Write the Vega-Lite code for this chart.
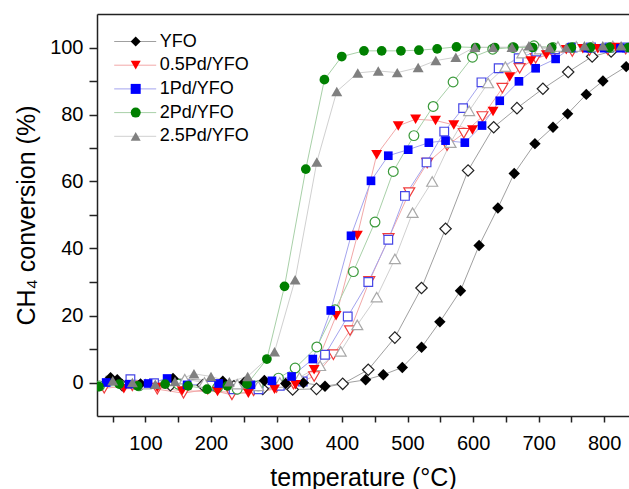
{
"$schema":"https://vega.github.io/schema/vega-lite/v6.json",
"width":532,"height":402,
"autosize":{"type":"none"},
"padding":{"left":97,"top":14,"right":0,"bottom":73},
"background":"white",
"config":{
 "view":{"stroke":null},
 "font":"Liberation Sans",
 "axis":{"labelFont":"Liberation Sans","titleFont":"Liberation Sans","labelColor":"black","titleColor":"black","domainColor":"#222","tickColor":"#222","domainWidth":1.5,"tickWidth":1.5,"grid":false,"titleFontWeight":"normal"},
 "legend":{"labelFont":"Liberation Sans","labelColor":"black"}
},
"datasets":{"d":[
{"s":"YFO","r":"a","k":"YFO a","t":46.7,"c":1.4},{"s":"YFO","r":"a","k":"YFO a","t":56.9,"c":0.8},{"s":"YFO","r":"a","k":"YFO a","t":92.4,"c":-0.4},{"s":"YFO","r":"a","k":"YFO a","t":142,"c":1.2},{"s":"YFO","r":"a","k":"YFO a","t":218,"c":0.4},{"s":"YFO","r":"a","k":"YFO a","t":251,"c":0.1},{"s":"YFO","r":"a","k":"YFO a","t":281.5,"c":0.6},{"s":"YFO","r":"a","k":"YFO a","t":314,"c":-0.3},{"s":"YFO","r":"a","k":"YFO a","t":341,"c":-0.1},{"s":"YFO","r":"a","k":"YFO a","t":374,"c":-1.1},{"s":"YFO","r":"a","k":"YFO a","t":436,"c":0.8},{"s":"YFO","r":"a","k":"YFO a","t":463,"c":2.3},{"s":"YFO","r":"a","k":"YFO a","t":492,"c":4.5},{"s":"YFO","r":"a","k":"YFO a","t":521.4,"c":10.5},{"s":"YFO","r":"a","k":"YFO a","t":549.3,"c":18.1},{"s":"YFO","r":"a","k":"YFO a","t":580.8,"c":27.4},{"s":"YFO","r":"a","k":"YFO a","t":609.2,"c":40.9},{"s":"YFO","r":"a","k":"YFO a","t":637.9,"c":52.1},{"s":"YFO","r":"a","k":"YFO a","t":662.8,"c":62.4},{"s":"YFO","r":"a","k":"YFO a","t":694.4,"c":71.3},{"s":"YFO","r":"a","k":"YFO a","t":722,"c":76.2},{"s":"YFO","r":"a","k":"YFO a","t":744.3,"c":80.2},{"s":"YFO","r":"a","k":"YFO a","t":772.8,"c":86},{"s":"YFO","r":"a","k":"YFO a","t":798.2,"c":90},{"s":"YFO","r":"a","k":"YFO a","t":833.7,"c":94.3},
{"s":"YFO","r":"b","k":"YFO b","t":64.5,"c":-0.8},{"s":"YFO","r":"b","k":"YFO b","t":138,"c":-0.8},{"s":"YFO","r":"b","k":"YFO b","t":187.5,"c":-0.8},{"s":"YFO","r":"b","k":"YFO b","t":235,"c":-1.1},{"s":"YFO","r":"b","k":"YFO b","t":279,"c":-1.9},{"s":"YFO","r":"b","k":"YFO b","t":324.6,"c":-2.1},{"s":"YFO","r":"b","k":"YFO b","t":361,"c":-1.9},{"s":"YFO","r":"b","k":"YFO b","t":401,"c":-0.4},{"s":"YFO","r":"b","k":"YFO b","t":440,"c":3.8},{"s":"YFO","r":"b","k":"YFO b","t":480.6,"c":13.4},{"s":"YFO","r":"b","k":"YFO b","t":521.3,"c":28.2},{"s":"YFO","r":"b","k":"YFO b","t":558,"c":45.9},{"s":"YFO","r":"b","k":"YFO b","t":592.4,"c":63.3},{"s":"YFO","r":"b","k":"YFO b","t":631.5,"c":76.2},{"s":"YFO","r":"b","k":"YFO b","t":667,"c":81.9},{"s":"YFO","r":"b","k":"YFO b","t":706.6,"c":87.7},{"s":"YFO","r":"b","k":"YFO b","t":745.2,"c":92.7},{"s":"YFO","r":"b","k":"YFO b","t":781.8,"c":97.3},{"s":"YFO","r":"b","k":"YFO b","t":810.7,"c":98.8},
{"s":"0.5Pd/YFO","r":"a","k":"0.5Pd/YFO a","t":67,"c":-1.9},{"s":"0.5Pd/YFO","r":"a","k":"0.5Pd/YFO a","t":118,"c":-1.5},{"s":"0.5Pd/YFO","r":"a","k":"0.5Pd/YFO a","t":156,"c":-2.5},{"s":"0.5Pd/YFO","r":"a","k":"0.5Pd/YFO a","t":210,"c":-2.7},{"s":"0.5Pd/YFO","r":"a","k":"0.5Pd/YFO a","t":257,"c":-3.2},{"s":"0.5Pd/YFO","r":"a","k":"0.5Pd/YFO a","t":297,"c":-2},{"s":"0.5Pd/YFO","r":"a","k":"0.5Pd/YFO a","t":329,"c":-0.7},{"s":"0.5Pd/YFO","r":"a","k":"0.5Pd/YFO a","t":357.4,"c":3.8},{"s":"0.5Pd/YFO","r":"a","k":"0.5Pd/YFO a","t":390.9,"c":19.9},{"s":"0.5Pd/YFO","r":"a","k":"0.5Pd/YFO a","t":423.4,"c":43.9},{"s":"0.5Pd/YFO","r":"a","k":"0.5Pd/YFO a","t":452.9,"c":68},{"s":"0.5Pd/YFO","r":"a","k":"0.5Pd/YFO a","t":485.8,"c":76.6},{"s":"0.5Pd/YFO","r":"a","k":"0.5Pd/YFO a","t":512.3,"c":78.6},{"s":"0.5Pd/YFO","r":"a","k":"0.5Pd/YFO a","t":542.7,"c":78.2},{"s":"0.5Pd/YFO","r":"a","k":"0.5Pd/YFO a","t":570.6,"c":76.9},{"s":"0.5Pd/YFO","r":"a","k":"0.5Pd/YFO a","t":599.1,"c":75.4},{"s":"0.5Pd/YFO","r":"a","k":"0.5Pd/YFO a","t":630.5,"c":80.9},{"s":"0.5Pd/YFO","r":"a","k":"0.5Pd/YFO a","t":655.9,"c":91.2},{"s":"0.5Pd/YFO","r":"a","k":"0.5Pd/YFO a","t":688.3,"c":96},{"s":"0.5Pd/YFO","r":"a","k":"0.5Pd/YFO a","t":711.8,"c":97.8},{"s":"0.5Pd/YFO","r":"a","k":"0.5Pd/YFO a","t":742.3,"c":99.3},{"s":"0.5Pd/YFO","r":"a","k":"0.5Pd/YFO a","t":767.6,"c":99.6},{"s":"0.5Pd/YFO","r":"a","k":"0.5Pd/YFO a","t":790.4,"c":99.6},{"s":"0.5Pd/YFO","r":"a","k":"0.5Pd/YFO a","t":818.4,"c":100},
{"s":"0.5Pd/YFO","r":"b","k":"0.5Pd/YFO b","t":37,"c":-1.7},{"s":"0.5Pd/YFO","r":"b","k":"0.5Pd/YFO b","t":80,"c":-1},{"s":"0.5Pd/YFO","r":"b","k":"0.5Pd/YFO b","t":118,"c":-2},{"s":"0.5Pd/YFO","r":"b","k":"0.5Pd/YFO b","t":158,"c":-3.2},{"s":"0.5Pd/YFO","r":"b","k":"0.5Pd/YFO b","t":195,"c":-2},{"s":"0.5Pd/YFO","r":"b","k":"0.5Pd/YFO b","t":232,"c":-3.7},{"s":"0.5Pd/YFO","r":"b","k":"0.5Pd/YFO b","t":265,"c":-2.5},{"s":"0.5Pd/YFO","r":"b","k":"0.5Pd/YFO b","t":300,"c":-1.5},{"s":"0.5Pd/YFO","r":"b","k":"0.5Pd/YFO b","t":326,"c":-0.5},{"s":"0.5Pd/YFO","r":"b","k":"0.5Pd/YFO b","t":357.4,"c":1.8},{"s":"0.5Pd/YFO","r":"b","k":"0.5Pd/YFO b","t":386.8,"c":8.3},{"s":"0.5Pd/YFO","r":"b","k":"0.5Pd/YFO b","t":412.2,"c":15.5},{"s":"0.5Pd/YFO","r":"b","k":"0.5Pd/YFO b","t":441.6,"c":30.2},{"s":"0.5Pd/YFO","r":"b","k":"0.5Pd/YFO b","t":471,"c":43},{"s":"0.5Pd/YFO","r":"b","k":"0.5Pd/YFO b","t":502.6,"c":56.7},{"s":"0.5Pd/YFO","r":"b","k":"0.5Pd/YFO b","t":530,"c":65.5},{"s":"0.5Pd/YFO","r":"b","k":"0.5Pd/YFO b","t":560.4,"c":70.7},{"s":"0.5Pd/YFO","r":"b","k":"0.5Pd/YFO b","t":585.8,"c":74.4},{"s":"0.5Pd/YFO","r":"b","k":"0.5Pd/YFO b","t":614.3,"c":79.4},{"s":"0.5Pd/YFO","r":"b","k":"0.5Pd/YFO b","t":644.8,"c":87.9},{"s":"0.5Pd/YFO","r":"b","k":"0.5Pd/YFO b","t":671.1,"c":93.8},{"s":"0.5Pd/YFO","r":"b","k":"0.5Pd/YFO b","t":695.5,"c":96.8},{"s":"0.5Pd/YFO","r":"b","k":"0.5Pd/YFO b","t":721.9,"c":98.3},{"s":"0.5Pd/YFO","r":"b","k":"0.5Pd/YFO b","t":751.4,"c":98.8},{"s":"0.5Pd/YFO","r":"b","k":"0.5Pd/YFO b","t":777.7,"c":99.1},{"s":"0.5Pd/YFO","r":"b","k":"0.5Pd/YFO b","t":805.6,"c":99.3},{"s":"0.5Pd/YFO","r":"b","k":"0.5Pd/YFO b","t":833,"c":99.5},
{"s":"1Pd/YFO","r":"a","k":"1Pd/YFO a","t":40,"c":0},{"s":"1Pd/YFO","r":"a","k":"1Pd/YFO a","t":75,"c":-0.5},{"s":"1Pd/YFO","r":"a","k":"1Pd/YFO a","t":104,"c":-0.3},{"s":"1Pd/YFO","r":"a","k":"1Pd/YFO a","t":133,"c":1.2},{"s":"1Pd/YFO","r":"a","k":"1Pd/YFO a","t":163.5,"c":-0.7},{"s":"1Pd/YFO","r":"a","k":"1Pd/YFO a","t":211.6,"c":-0.3},{"s":"1Pd/YFO","r":"a","k":"1Pd/YFO a","t":261,"c":-0.7},{"s":"1Pd/YFO","r":"a","k":"1Pd/YFO a","t":293,"c":0.5},{"s":"1Pd/YFO","r":"a","k":"1Pd/YFO a","t":323,"c":1.8},{"s":"1Pd/YFO","r":"a","k":"1Pd/YFO a","t":355.4,"c":7},{"s":"1Pd/YFO","r":"a","k":"1Pd/YFO a","t":382.8,"c":21.5},{"s":"1Pd/YFO","r":"a","k":"1Pd/YFO a","t":413.7,"c":43.8},{"s":"1Pd/YFO","r":"a","k":"1Pd/YFO a","t":444.2,"c":60.2},{"s":"1Pd/YFO","r":"a","k":"1Pd/YFO a","t":470.6,"c":67.7},{"s":"1Pd/YFO","r":"a","k":"1Pd/YFO a","t":501,"c":69.5},{"s":"1Pd/YFO","r":"a","k":"1Pd/YFO a","t":532.5,"c":71.6},{"s":"1Pd/YFO","r":"a","k":"1Pd/YFO a","t":558,"c":72.2},{"s":"1Pd/YFO","r":"a","k":"1Pd/YFO a","t":587.4,"c":71.6},{"s":"1Pd/YFO","r":"a","k":"1Pd/YFO a","t":613.7,"c":76.7},{"s":"1Pd/YFO","r":"a","k":"1Pd/YFO a","t":640.7,"c":84.1},{"s":"1Pd/YFO","r":"a","k":"1Pd/YFO a","t":670,"c":89.9},{"s":"1Pd/YFO","r":"a","k":"1Pd/YFO a","t":695.5,"c":93.8},{"s":"1Pd/YFO","r":"a","k":"1Pd/YFO a","t":726,"c":96.6},{"s":"1Pd/YFO","r":"a","k":"1Pd/YFO a","t":749.8,"c":100},{"s":"1Pd/YFO","r":"a","k":"1Pd/YFO a","t":775,"c":99.8},{"s":"1Pd/YFO","r":"a","k":"1Pd/YFO a","t":800,"c":99.8},{"s":"1Pd/YFO","r":"a","k":"1Pd/YFO a","t":825,"c":99.8},
{"s":"1Pd/YFO","r":"b","k":"1Pd/YFO b","t":77,"c":1},{"s":"1Pd/YFO","r":"b","k":"1Pd/YFO b","t":113,"c":-0.2},{"s":"1Pd/YFO","r":"b","k":"1Pd/YFO b","t":160,"c":-0.5},{"s":"1Pd/YFO","r":"b","k":"1Pd/YFO b","t":200,"c":-1},{"s":"1Pd/YFO","r":"b","k":"1Pd/YFO b","t":234.5,"c":-2},{"s":"1Pd/YFO","r":"b","k":"1Pd/YFO b","t":272.5,"c":-2},{"s":"1Pd/YFO","r":"b","k":"1Pd/YFO b","t":305,"c":-1},{"s":"1Pd/YFO","r":"b","k":"1Pd/YFO b","t":340,"c":0.3},{"s":"1Pd/YFO","r":"b","k":"1Pd/YFO b","t":374,"c":8.3},{"s":"1Pd/YFO","r":"b","k":"1Pd/YFO b","t":408.7,"c":19.7},{"s":"1Pd/YFO","r":"b","k":"1Pd/YFO b","t":440.1,"c":30},{"s":"1Pd/YFO","r":"b","k":"1Pd/YFO b","t":470.6,"c":42.6},{"s":"1Pd/YFO","r":"b","k":"1Pd/YFO b","t":496,"c":55.7},{"s":"1Pd/YFO","r":"b","k":"1Pd/YFO b","t":529,"c":65.7},{"s":"1Pd/YFO","r":"b","k":"1Pd/YFO b","t":556,"c":74.9},{"s":"1Pd/YFO","r":"b","k":"1Pd/YFO b","t":584.8,"c":81.9},{"s":"1Pd/YFO","r":"b","k":"1Pd/YFO b","t":612.8,"c":89.6},{"s":"1Pd/YFO","r":"b","k":"1Pd/YFO b","t":639.1,"c":93.8},{"s":"1Pd/YFO","r":"b","k":"1Pd/YFO b","t":669.6,"c":96.8},{"s":"1Pd/YFO","r":"b","k":"1Pd/YFO b","t":696.5,"c":98.8},{"s":"1Pd/YFO","r":"b","k":"1Pd/YFO b","t":725,"c":99.5},{"s":"1Pd/YFO","r":"b","k":"1Pd/YFO b","t":752,"c":100},{"s":"1Pd/YFO","r":"b","k":"1Pd/YFO b","t":780,"c":100},{"s":"1Pd/YFO","r":"b","k":"1Pd/YFO b","t":808,"c":100},{"s":"1Pd/YFO","r":"b","k":"1Pd/YFO b","t":835,"c":100},
{"s":"2Pd/YFO","r":"a","k":"2Pd/YFO a","t":29,"c":-1.2},{"s":"2Pd/YFO","r":"a","k":"2Pd/YFO a","t":60,"c":-0.5},{"s":"2Pd/YFO","r":"a","k":"2Pd/YFO a","t":88,"c":-1},{"s":"2Pd/YFO","r":"a","k":"2Pd/YFO a","t":130,"c":-0.5},{"s":"2Pd/YFO","r":"a","k":"2Pd/YFO a","t":165,"c":-1},{"s":"2Pd/YFO","r":"a","k":"2Pd/YFO a","t":194,"c":-2},{"s":"2Pd/YFO","r":"a","k":"2Pd/YFO a","t":225,"c":-1},{"s":"2Pd/YFO","r":"a","k":"2Pd/YFO a","t":255,"c":-0.5},{"s":"2Pd/YFO","r":"a","k":"2Pd/YFO a","t":285.3,"c":7},{"s":"2Pd/YFO","r":"a","k":"2Pd/YFO a","t":312.2,"c":28.7},{"s":"2Pd/YFO","r":"a","k":"2Pd/YFO a","t":344.7,"c":63.7},{"s":"2Pd/YFO","r":"a","k":"2Pd/YFO a","t":373.1,"c":90.4},{"s":"2Pd/YFO","r":"a","k":"2Pd/YFO a","t":399.6,"c":97.3},{"s":"2Pd/YFO","r":"a","k":"2Pd/YFO a","t":433.5,"c":99},{"s":"2Pd/YFO","r":"a","k":"2Pd/YFO a","t":460.5,"c":99},{"s":"2Pd/YFO","r":"a","k":"2Pd/YFO a","t":489.9,"c":99},{"s":"2Pd/YFO","r":"a","k":"2Pd/YFO a","t":517.3,"c":99.2},{"s":"2Pd/YFO","r":"a","k":"2Pd/YFO a","t":545.2,"c":99.6},{"s":"2Pd/YFO","r":"a","k":"2Pd/YFO a","t":574.7,"c":100.2},{"s":"2Pd/YFO","r":"a","k":"2Pd/YFO a","t":604,"c":100},{"s":"2Pd/YFO","r":"a","k":"2Pd/YFO a","t":633,"c":100},{"s":"2Pd/YFO","r":"a","k":"2Pd/YFO a","t":662,"c":100},{"s":"2Pd/YFO","r":"a","k":"2Pd/YFO a","t":691,"c":100},{"s":"2Pd/YFO","r":"a","k":"2Pd/YFO a","t":720,"c":100},{"s":"2Pd/YFO","r":"a","k":"2Pd/YFO a","t":750,"c":100},{"s":"2Pd/YFO","r":"a","k":"2Pd/YFO a","t":779,"c":100},{"s":"2Pd/YFO","r":"a","k":"2Pd/YFO a","t":808,"c":100},{"s":"2Pd/YFO","r":"a","k":"2Pd/YFO a","t":837,"c":100},
{"s":"2Pd/YFO","r":"b","k":"2Pd/YFO b","t":30,"c":-1},{"s":"2Pd/YFO","r":"b","k":"2Pd/YFO b","t":90,"c":-1},{"s":"2Pd/YFO","r":"b","k":"2Pd/YFO b","t":150,"c":-0.5},{"s":"2Pd/YFO","r":"b","k":"2Pd/YFO b","t":210,"c":-1.5},{"s":"2Pd/YFO","r":"b","k":"2Pd/YFO b","t":240,"c":-2},{"s":"2Pd/YFO","r":"b","k":"2Pd/YFO b","t":272,"c":-1},{"s":"2Pd/YFO","r":"b","k":"2Pd/YFO b","t":303,"c":1.3},{"s":"2Pd/YFO","r":"b","k":"2Pd/YFO b","t":328.4,"c":4.3},{"s":"2Pd/YFO","r":"b","k":"2Pd/YFO b","t":361.5,"c":10.6},{"s":"2Pd/YFO","r":"b","k":"2Pd/YFO b","t":389.4,"c":21.7},{"s":"2Pd/YFO","r":"b","k":"2Pd/YFO b","t":417.3,"c":33.1},{"s":"2Pd/YFO","r":"b","k":"2Pd/YFO b","t":450.3,"c":47.9},{"s":"2Pd/YFO","r":"b","k":"2Pd/YFO b","t":478.2,"c":63},{"s":"2Pd/YFO","r":"b","k":"2Pd/YFO b","t":509.7,"c":73.7},{"s":"2Pd/YFO","r":"b","k":"2Pd/YFO b","t":539.1,"c":82.4},{"s":"2Pd/YFO","r":"b","k":"2Pd/YFO b","t":569.5,"c":89.7},{"s":"2Pd/YFO","r":"b","k":"2Pd/YFO b","t":599.1,"c":97.1},{"s":"2Pd/YFO","r":"b","k":"2Pd/YFO b","t":630,"c":99.5},{"s":"2Pd/YFO","r":"b","k":"2Pd/YFO b","t":661,"c":100},{"s":"2Pd/YFO","r":"b","k":"2Pd/YFO b","t":693,"c":100.5},{"s":"2Pd/YFO","r":"b","k":"2Pd/YFO b","t":722,"c":100},{"s":"2Pd/YFO","r":"b","k":"2Pd/YFO b","t":752,"c":100},{"s":"2Pd/YFO","r":"b","k":"2Pd/YFO b","t":780,"c":100},{"s":"2Pd/YFO","r":"b","k":"2Pd/YFO b","t":810,"c":100},
{"s":"2.5Pd/YFO","r":"a","k":"2.5Pd/YFO a","t":50,"c":0.5},{"s":"2.5Pd/YFO","r":"a","k":"2.5Pd/YFO a","t":80,"c":0},{"s":"2.5Pd/YFO","r":"a","k":"2.5Pd/YFO a","t":115,"c":-0.5},{"s":"2.5Pd/YFO","r":"a","k":"2.5Pd/YFO a","t":145,"c":0.3},{"s":"2.5Pd/YFO","r":"a","k":"2.5Pd/YFO a","t":174,"c":2.6},{"s":"2.5Pd/YFO","r":"a","k":"2.5Pd/YFO a","t":200,"c":1.8},{"s":"2.5Pd/YFO","r":"a","k":"2.5Pd/YFO a","t":228,"c":0.2},{"s":"2.5Pd/YFO","r":"a","k":"2.5Pd/YFO a","t":256,"c":1.8},{"s":"2.5Pd/YFO","r":"a","k":"2.5Pd/YFO a","t":297,"c":9.2},{"s":"2.5Pd/YFO","r":"a","k":"2.5Pd/YFO a","t":328.4,"c":30.7},{"s":"2.5Pd/YFO","r":"a","k":"2.5Pd/YFO a","t":361.5,"c":65.8},{"s":"2.5Pd/YFO","r":"a","k":"2.5Pd/YFO a","t":392,"c":86.9},{"s":"2.5Pd/YFO","r":"a","k":"2.5Pd/YFO a","t":424,"c":92.4},{"s":"2.5Pd/YFO","r":"a","k":"2.5Pd/YFO a","t":455.3,"c":93},{"s":"2.5Pd/YFO","r":"a","k":"2.5Pd/YFO a","t":484.3,"c":92.5},{"s":"2.5Pd/YFO","r":"a","k":"2.5Pd/YFO a","t":516.2,"c":94},{"s":"2.5Pd/YFO","r":"a","k":"2.5Pd/YFO a","t":543.2,"c":96.1},{"s":"2.5Pd/YFO","r":"a","k":"2.5Pd/YFO a","t":573.7,"c":97.1},{"s":"2.5Pd/YFO","r":"a","k":"2.5Pd/YFO a","t":602.6,"c":100.1},{"s":"2.5Pd/YFO","r":"a","k":"2.5Pd/YFO a","t":630.5,"c":100.1},{"s":"2.5Pd/YFO","r":"a","k":"2.5Pd/YFO a","t":659.4,"c":100.1},{"s":"2.5Pd/YFO","r":"a","k":"2.5Pd/YFO a","t":685.3,"c":100.5},{"s":"2.5Pd/YFO","r":"a","k":"2.5Pd/YFO a","t":716.8,"c":100},{"s":"2.5Pd/YFO","r":"a","k":"2.5Pd/YFO a","t":742.3,"c":100},{"s":"2.5Pd/YFO","r":"a","k":"2.5Pd/YFO a","t":770,"c":100.5},{"s":"2.5Pd/YFO","r":"a","k":"2.5Pd/YFO a","t":798,"c":100.5},{"s":"2.5Pd/YFO","r":"a","k":"2.5Pd/YFO a","t":826,"c":100.5},
{"s":"2.5Pd/YFO","r":"b","k":"2.5Pd/YFO b","t":40,"c":0.5},{"s":"2.5Pd/YFO","r":"b","k":"2.5Pd/YFO b","t":100,"c":-0.5},{"s":"2.5Pd/YFO","r":"b","k":"2.5Pd/YFO b","t":160,"c":1},{"s":"2.5Pd/YFO","r":"b","k":"2.5Pd/YFO b","t":190,"c":0},{"s":"2.5Pd/YFO","r":"b","k":"2.5Pd/YFO b","t":240,"c":-0.5},{"s":"2.5Pd/YFO","r":"b","k":"2.5Pd/YFO b","t":272,"c":-1},{"s":"2.5Pd/YFO","r":"b","k":"2.5Pd/YFO b","t":305,"c":0},{"s":"2.5Pd/YFO","r":"b","k":"2.5Pd/YFO b","t":335,"c":1.5},{"s":"2.5Pd/YFO","r":"b","k":"2.5Pd/YFO b","t":366.5,"c":5},{"s":"2.5Pd/YFO","r":"b","k":"2.5Pd/YFO b","t":398,"c":9.3},{"s":"2.5Pd/YFO","r":"b","k":"2.5Pd/YFO b","t":423.3,"c":17.2},{"s":"2.5Pd/YFO","r":"b","k":"2.5Pd/YFO b","t":452.9,"c":25.5},{"s":"2.5Pd/YFO","r":"b","k":"2.5Pd/YFO b","t":480.7,"c":36.9},{"s":"2.5Pd/YFO","r":"b","k":"2.5Pd/YFO b","t":507.7,"c":50.7},{"s":"2.5Pd/YFO","r":"b","k":"2.5Pd/YFO b","t":537.6,"c":60},{"s":"2.5Pd/YFO","r":"b","k":"2.5Pd/YFO b","t":565.6,"c":71.6},{"s":"2.5Pd/YFO","r":"b","k":"2.5Pd/YFO b","t":594,"c":81.1},{"s":"2.5Pd/YFO","r":"b","k":"2.5Pd/YFO b","t":622.9,"c":89.4},{"s":"2.5Pd/YFO","r":"b","k":"2.5Pd/YFO b","t":649.3,"c":94.3},{"s":"2.5Pd/YFO","r":"b","k":"2.5Pd/YFO b","t":675.2,"c":98.3},{"s":"2.5Pd/YFO","r":"b","k":"2.5Pd/YFO b","t":702,"c":99.5},{"s":"2.5Pd/YFO","r":"b","k":"2.5Pd/YFO b","t":729.5,"c":100.3},{"s":"2.5Pd/YFO","r":"b","k":"2.5Pd/YFO b","t":757.5,"c":100.3},{"s":"2.5Pd/YFO","r":"b","k":"2.5Pd/YFO b","t":782.8,"c":100.3},{"s":"2.5Pd/YFO","r":"b","k":"2.5Pd/YFO b","t":813.3,"c":100.5}
]},
"data":{"name":"d"},
"resolve":{"axis":{"x":"independent"}},
"layer":[
 {"mark":{"type":"line","strokeWidth":1,"clip":true},
  "encoding":{
   "x":{"field":"t","type":"quantitative","scale":{"domain":[26,838],"nice":false,"zero":false},
        "axis":{"orient":"top","labels":false,"ticks":false,"title":null,"domainColor":"#222","domainWidth":1.5}},
   "y":{"field":"c","type":"quantitative","scale":{"domain":[-10,110],"nice":false,"zero":false},
        "axis":{"values":[0,10,20,30,40,50,60,70,80,90,100],"labelExpr":"datum.value % 20 === 0 ? datum.label : ''","title":"CH₄ conversion (%)","titleFontSize":25,"labelFontSize":20,"tickSize":8,"labelPadding":6,"titlePadding":10}},
   "stroke":{"field":"k","type":"nominal",
     "scale":{"domain":["YFO a","0.5Pd/YFO a","1Pd/YFO a","2Pd/YFO a","2.5Pd/YFO a","YFO b","0.5Pd/YFO b","1Pd/YFO b","2Pd/YFO b","2.5Pd/YFO b"],
              "range":["#a0a0a0","#f2a8a8","#a4a4ee","#a8d0a8","#d0d0d0","#a0a0a0","#f2a8a8","#a4a4ee","#a8d0a8","#d0d0d0"]},
     "legend":{"orient":"none","legendX":29.7,"legendY":18.5,"values":["YFO a","0.5Pd/YFO a","1Pd/YFO a","2Pd/YFO a","2.5Pd/YFO a"],"title":null,"symbolType":"M-4.3,0H4.1","symbolSize":100,"symbolStrokeWidth":1,"labelFontSize":18,"labelExpr":"''","rowPadding":5.7,"labelOffset":15,"padding":0}}
  }},
 {"transform":[{"filter":"datum.r === 'b'"}],
  "mark":{"type":"point","filled":false,"fill":"white","strokeWidth":1.2,"opacity":1,"clip":true},
  "encoding":{
   "x":{"field":"t","type":"quantitative","axis":null},
   "y":{"field":"c","type":"quantitative","axis":{"values":[0,10,20,30,40,50,60,70,80,90,100],"labelExpr":"datum.value % 20 === 0 ? datum.label : ''","title":"CH₄ conversion (%)","titleFontSize":25,"labelFontSize":20,"tickSize":8,"labelPadding":6,"titlePadding":10}},
   "stroke":{"condition":[{"test":"datum.s === 'YFO'","value":"#222222"},{"test":"datum.s === '0.5Pd/YFO'","value":"#f03c3c"},{"test":"datum.s === '1Pd/YFO'","value":"#4646e6"},{"test":"datum.s === '2Pd/YFO'","value":"#3a9a3a"}],"value":"#a8a8a8"},
   "shape":{"condition":[{"test":"datum.s === 'YFO'","value":"diamond"},{"test":"datum.s === '0.5Pd/YFO'","value":"triangle-down"},{"test":"datum.s === '1Pd/YFO'","value":"square"},{"test":"datum.s === '2Pd/YFO'","value":"circle"}],"value":"triangle-up"},
   "size":{"condition":[{"test":"datum.s === 'YFO'","value":130},{"test":"datum.s === '1Pd/YFO'","value":75},{"test":"datum.s === '2Pd/YFO'","value":95}],"value":120}
  }},
 {"transform":[{"filter":"datum.r === 'a'"}],
  "mark":{"type":"point","filled":true,"opacity":1,"strokeWidth":0,"clip":true},
  "encoding":{
   "x":{"field":"t","type":"quantitative",
        "axis":{"values":[50,100,150,200,250,300,350,400,450,500,550,600,650,700,750,800],"labelExpr":"datum.value % 100 === 0 ? datum.label : ''","title":"temperature (°C)","titleFontSize":25,"labelFontSize":20,"tickSize":6,"labelPadding":11,"titlePadding":12,"labelFlush":false}},
   "y":{"field":"c","type":"quantitative","axis":{"values":[0,10,20,30,40,50,60,70,80,90,100],"labelExpr":"datum.value % 20 === 0 ? datum.label : ''","title":"CH₄ conversion (%)","titleFontSize":25,"labelFontSize":20,"tickSize":8,"labelPadding":6,"titlePadding":10}},
   "fill":{"field":"s","type":"nominal","scale":{"domain":["YFO","0.5Pd/YFO","1Pd/YFO","2Pd/YFO","2.5Pd/YFO"],"range":["#000000","#ff0000","#0000ff","#008000","#808080"]},
     "legend":{"orient":"none","legendX":29.7,"legendY":18.5,"title":null,"symbolSize":100,"symbolStrokeWidth":0,"labelFontSize":18,"rowPadding":5.7,"labelOffset":15,"padding":0}},
   "shape":{"field":"s","type":"nominal","scale":{"domain":["YFO","0.5Pd/YFO","1Pd/YFO","2Pd/YFO","2.5Pd/YFO"],"range":["diamond","triangle-down","square","circle","triangle-up"]},
     "legend":{"orient":"none","legendX":29.7,"legendY":18.5,"title":null,"symbolSize":100,"symbolStrokeWidth":0,"labelFontSize":18,"rowPadding":5.7,"labelOffset":15,"padding":0}},
   "size":{"condition":[{"test":"datum.s === 'YFO'","value":130},{"test":"datum.s === '1Pd/YFO'","value":75},{"test":"datum.s === '2Pd/YFO'","value":95}],"value":120}
  }}
]
}
